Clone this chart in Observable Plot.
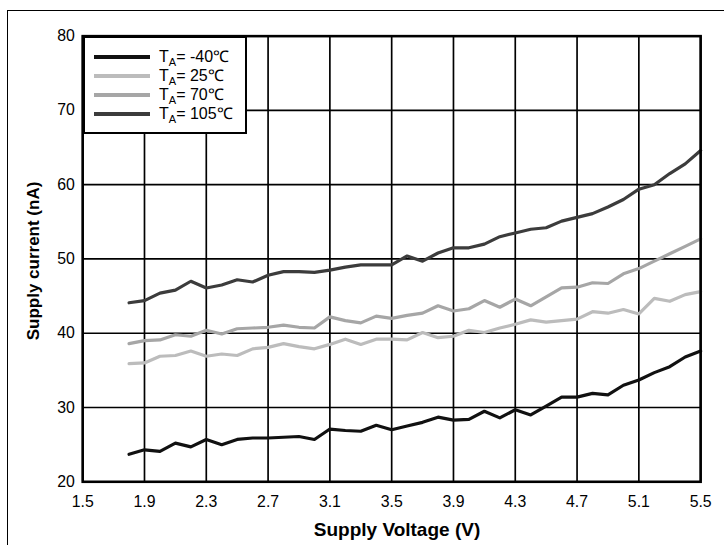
<!DOCTYPE html>
<html>
<head>
<meta charset="utf-8">
<script src="https://cdn.jsdelivr.net/npm/d3@7"></script>
<script src="https://cdn.jsdelivr.net/npm/@observablehq/plot@0.6"></script>
<style>
  html, body { margin: 0; padding: 0; background: #fff; }
  #wrap { position: relative; width: 724px; height: 545px; overflow: hidden; font-family: "Liberation Sans", Arial, Helvetica, sans-serif; color: #000; }
  #frame { position: absolute; left: 7px; top: 10px; width: 800px; height: 700px; border-left: 1.5px solid #000; border-top: 1.5px solid #000; }
  #chart { position: absolute; left: 0; top: 0; width: 717px; height: 545px; overflow: hidden; }
  .title { position: absolute; font-weight: bold; white-space: nowrap; }
  #ytitle { left: 34px; top: 261px; font-size: 17px; transform: translate(-50%, -50%) rotate(-90deg); }
  #xtitle { left: 397px; top: 530px; font-size: 19px; transform: translate(-50%, -50%); }
  #legend { position: absolute; left: 83px; top: 36px; width: 160px; height: 94px; border: 2px solid #000; background: #fff; box-sizing: content-box; }
  .row { position: absolute; left: 0; height: 19px; width: 160px; }
  .sw { position: absolute; left: 9px; top: 7.5px; width: 56px; height: 4px; }
  .lt { position: absolute; left: 74px; top: 0; font-size: 16px; line-height: 19px; white-space: nowrap; }
  .lt sub { font-size: 11px; vertical-align: -4px; line-height: 0; }
</style>
</head>
<body>
<div id="wrap">
  <div id="frame"></div>
  <div id="chart"></div>
  <div id="legend"></div>
  <div class="title" id="ytitle">Supply current (nA)</div>
  <div class="title" id="xtitle">Supply Voltage (V)</div>
</div>
<script>
// Supply voltage (V)
const voltage = [1.8, 1.9, 2.0, 2.1, 2.2, 2.3, 2.4, 2.5, 2.6, 2.7, 2.8, 2.9, 3.0, 3.1, 3.2, 3.3, 3.4, 3.5, 3.6, 3.7,
                 3.8, 3.9, 4.0, 4.1, 4.2, 4.3, 4.4, 4.5, 4.6, 4.7, 4.8, 4.9, 5.0, 5.1, 5.2, 5.3, 5.4, 5.5];
// Supply current (nA) per temperature
const currentM40 = [23.7, 24.3, 24.1, 25.2, 24.7, 25.7, 25.0, 25.7, 25.9, 25.9, 26.0, 26.1, 25.7, 27.1, 26.9, 26.8, 27.6, 27.0, 27.5, 28.0,
                    28.7, 28.3, 28.4, 29.5, 28.6, 29.7, 29.0, 30.2, 31.4, 31.4, 31.9, 31.7, 33.0, 33.7, 34.7, 35.5, 36.8, 37.6];
const current25 = [35.9, 36.0, 36.9, 37.0, 37.6, 36.9, 37.2, 37.0, 37.9, 38.1, 38.6, 38.2, 37.9, 38.5, 39.2, 38.5, 39.2, 39.2, 39.1, 40.1,
                   39.4, 39.6, 40.4, 40.1, 40.7, 41.2, 41.8, 41.5, 41.7, 41.9, 42.9, 42.7, 43.2, 42.6, 44.7, 44.3, 45.2, 45.6];
const current70 = [38.6, 39.0, 39.1, 39.8, 39.6, 40.4, 39.9, 40.6, 40.7, 40.8, 41.1, 40.8, 40.7, 42.2, 41.7, 41.4, 42.3, 42.0, 42.4, 42.7,
                   43.7, 43.0, 43.3, 44.4, 43.5, 44.6, 43.7, 44.9, 46.1, 46.2, 46.8, 46.7, 48.0, 48.7, 49.7, 50.7, 51.7, 52.7];
const current105 = [44.1, 44.4, 45.4, 45.8, 47.0, 46.1, 46.5, 47.2, 46.9, 47.8, 48.3, 48.3, 48.2, 48.5, 48.9, 49.2, 49.2, 49.2, 50.4, 49.7,
                    50.8, 51.5, 51.5, 52.0, 53.0, 53.5, 54.0, 54.2, 55.1, 55.6, 56.1, 57.0, 58.0, 59.4, 60.0, 61.5, 62.8, 64.6];

const seriesTemps = ["-40", "25", "70", "105"];
const seriesValues = [currentM40, current25, current70, current105];
const seriesColors = ["#111111", "#bcbcbc", "#a6a6a6", "#3c3c3c"];

const xTicks = [1.5, 1.9, 2.3, 2.7, 3.1, 3.5, 3.9, 4.3, 4.7, 5.1, 5.5];
const yTicks = [20, 30, 40, 50, 60, 70, 80];

const data = seriesTemps.flatMap((t, k) => voltage.map((v, j) => ({series: t, v, i: seriesValues[k][j]})));

const chart = Plot.plot({
  width: 724,
  height: 545,
  marginLeft: 83,
  marginRight: 17,
  marginTop: 36,
  marginBottom: 59,
  style: {fontFamily: "'Liberation Sans', Arial, Helvetica, sans-serif", fontSize: "16px", color: "#000", background: "transparent", overflow: "visible"},
  x: {domain: [1.5, 5.5]},
  y: {domain: [20, 80]},
  color: {domain: seriesTemps, range: seriesColors},
  marks: [
    Plot.gridX(xTicks, {stroke: "#000", strokeOpacity: 1, strokeWidth: 1.7}),
    Plot.gridY(yTicks, {stroke: "#000", strokeOpacity: 1, strokeWidth: 1.7}),
    Plot.line(data, {x: "v", y: "i", z: "series", stroke: "series", strokeWidth: 3.2, strokeLinejoin: "round"}),
    Plot.frame({stroke: "#000", strokeWidth: 2.6}),
    Plot.axisX(xTicks, {tickSize: 0, tickPadding: 14, tickFormat: d => d.toFixed(1), fontSize: 16, label: null}),
    Plot.axisY(yTicks, {tickSize: 0, tickPadding: 8, fontSize: 16, label: null})
  ]
});
document.getElementById("chart").appendChild(chart);

// Legend (inside the plot's top-left corner)
const legend = document.getElementById("legend");
seriesTemps.forEach((t, k) => {
  const row = document.createElement("div");
  row.className = "row";
  row.style.top = (9 + k * 19) + "px";
  const sw = document.createElement("div");
  sw.className = "sw";
  sw.style.background = seriesColors[k];
  const lt = document.createElement("div");
  lt.className = "lt";
  lt.innerHTML = "T<sub>A</sub>= " + t + "℃";
  row.appendChild(sw);
  row.appendChild(lt);
  legend.appendChild(row);
});
</script>
</body>
</html>
